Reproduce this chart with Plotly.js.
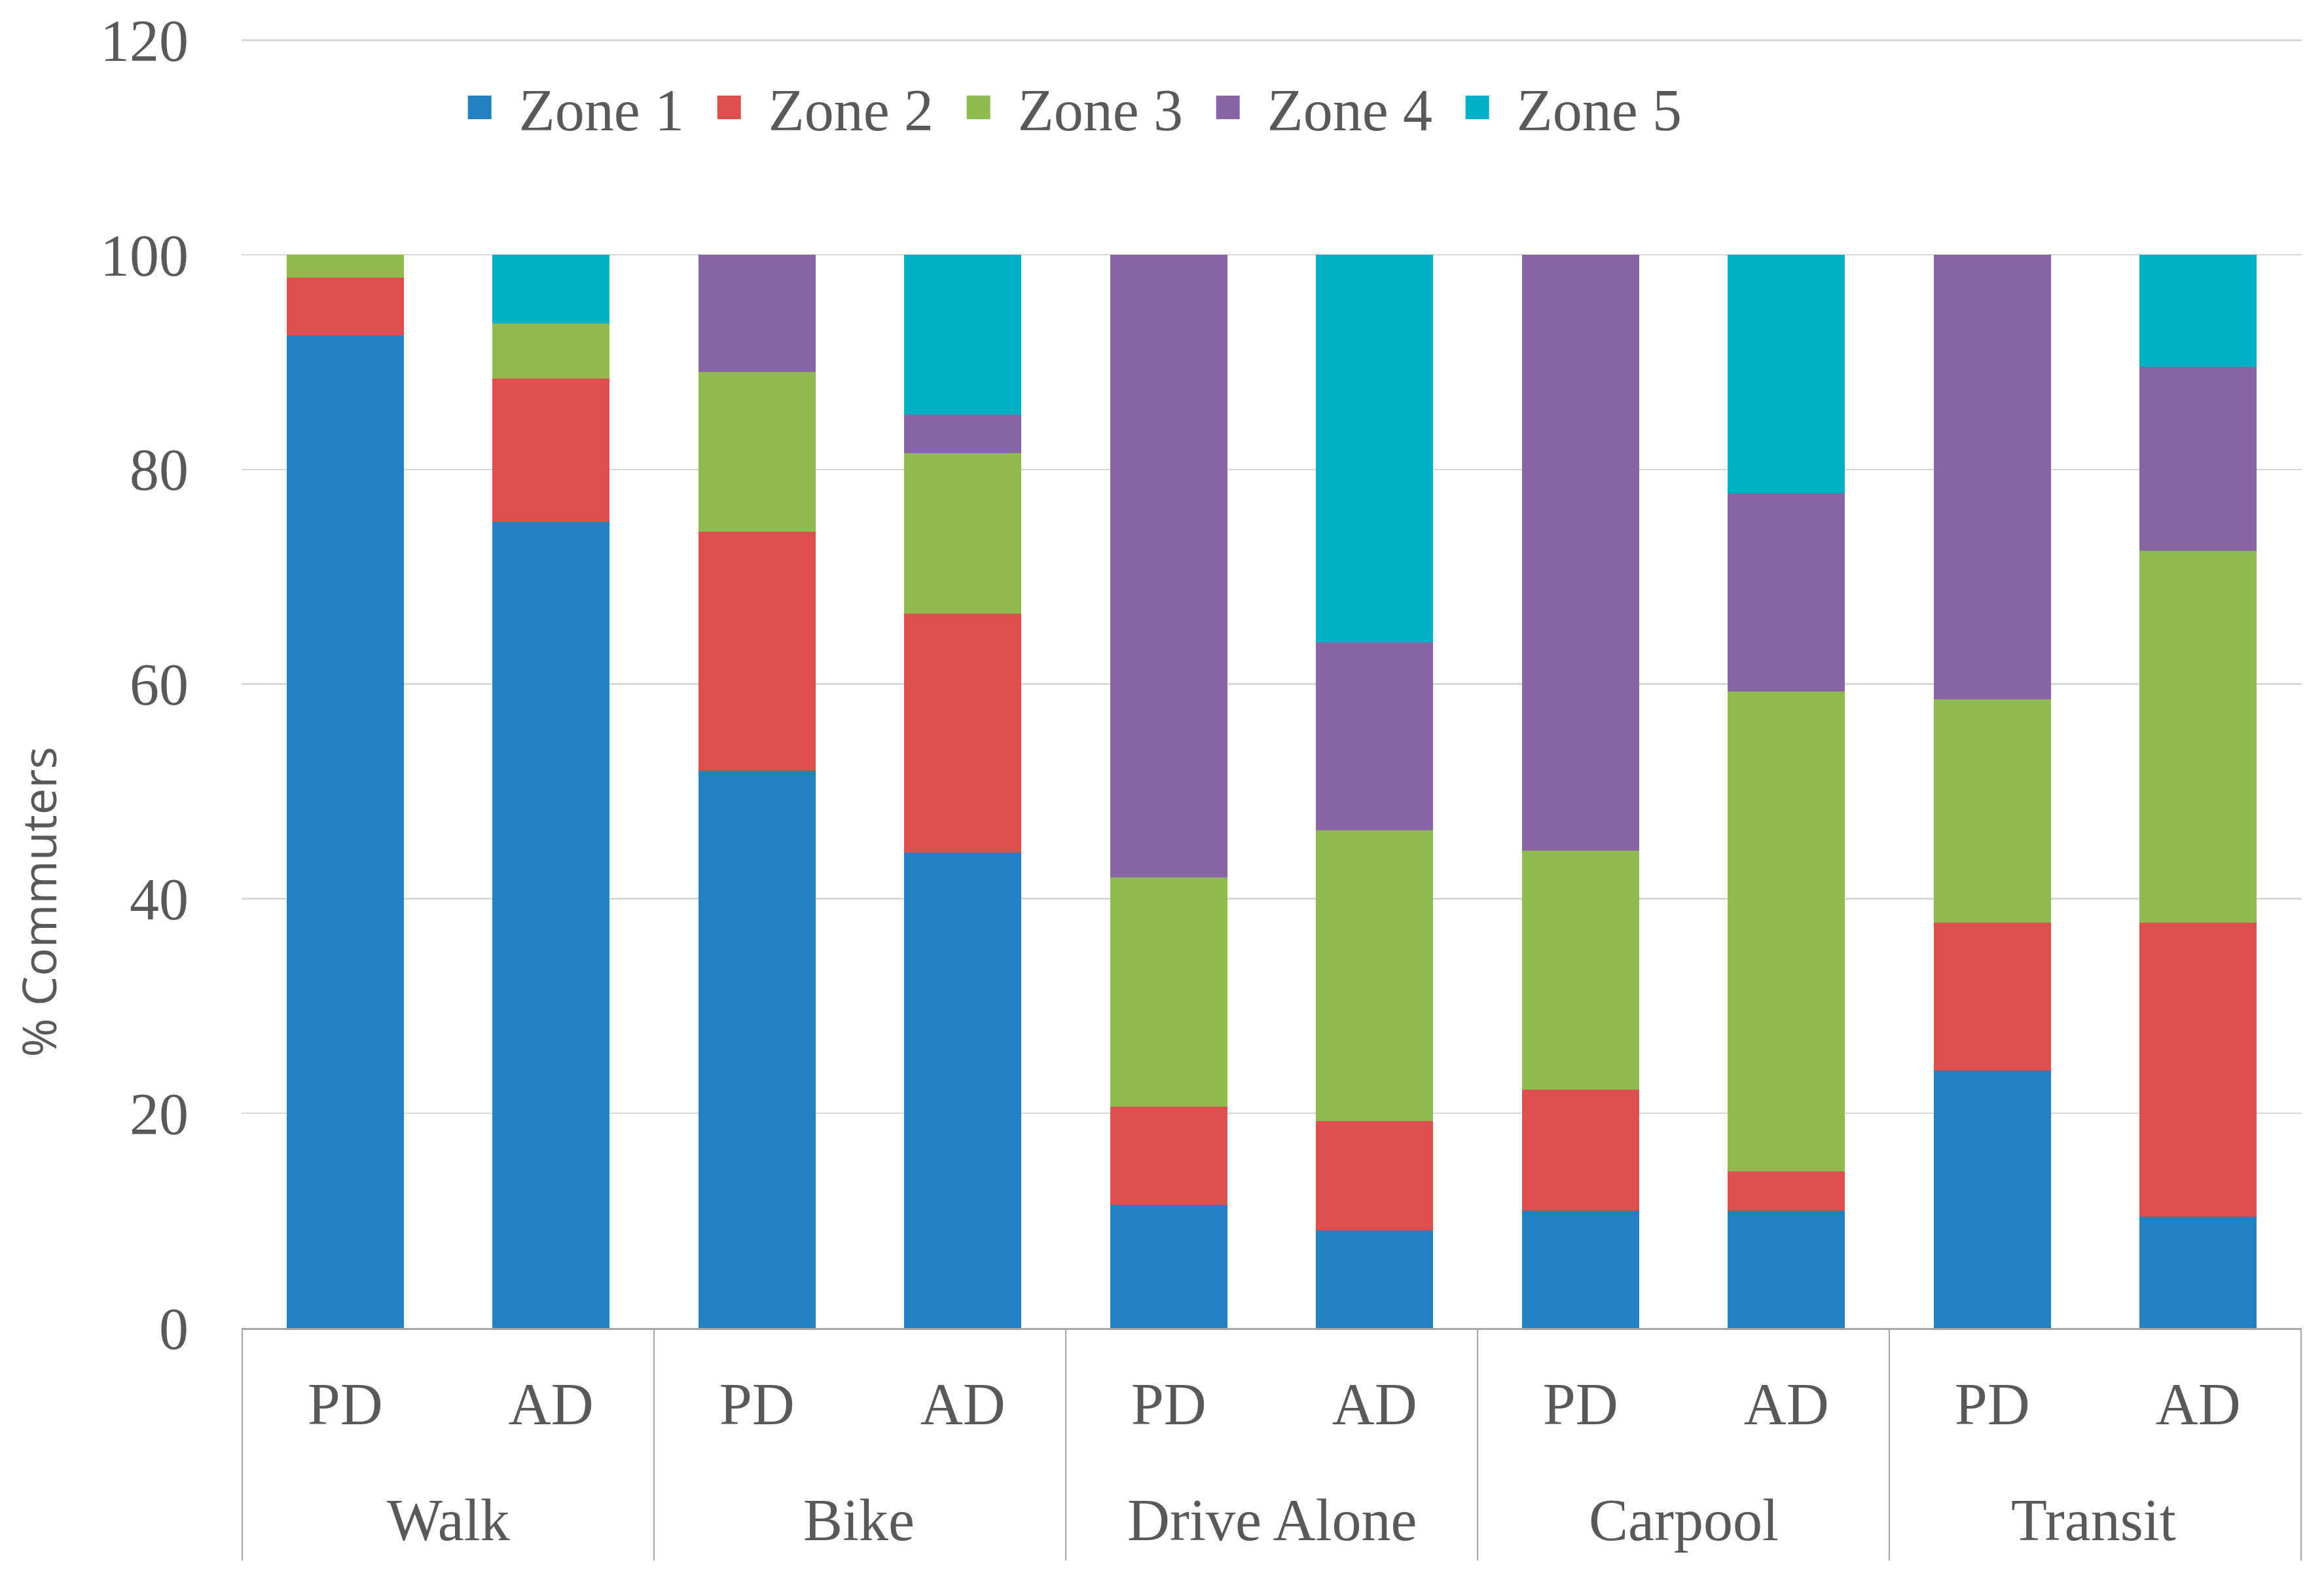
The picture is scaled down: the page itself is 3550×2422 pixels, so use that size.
<!DOCTYPE html>
<html>
<head>
<meta charset="utf-8">
<script src="https://cdn.plot.ly/plotly-3.0.1.min.js"></script>
<style>
html, body { margin: 0; padding: 0; background: #ffffff; overflow: hidden; }
#wrap { width: 3550px; height: 2422px; overflow: hidden; }
#chart { width: 1183.33px; height: 807.33px; transform: scale(3); transform-origin: 0 0; }
</style>
</head>
<body>
<div id="wrap"><div id="chart"></div></div>
<script>
const modes = ['Walk','Walk','Bike','Bike','Drive Alone','Drive Alone','Carpool','Carpool','Transit','Transit'];
const periods = ['PD','AD','PD','AD','PD','AD','PD','AD','PD','AD'];
const zoneNames = ['Zone 1','Zone 2','Zone 3','Zone 4','Zone 5'];
const zone1 = [92.5, 75.1, 51.9, 44.3, 11.5, 9.1, 10.9, 10.9, 24.0, 10.4];
const zone2 = [5.4, 13.4, 22.3, 22.3, 9.1, 10.2, 11.3, 3.7, 13.8, 27.4];
const zone3 = [2.1, 5.1, 14.9, 14.9, 21.4, 27.1, 22.3, 44.7, 20.8, 34.6];
const zone4 = [0, 0, 10.9, 3.6, 58.0, 17.5, 55.5, 18.5, 41.4, 17.2];
const zone5 = [0, 6.4, 0, 14.9, 0, 36.1, 0, 22.2, 0, 10.4];
const zoneColors = ['#2381c2', '#dc4f4c', '#8dbb4f', '#8a64a5', '#00afc8'];

// unique category keys for the x axis (mode + period)
const cats = modes.map((m, i) => m + ' ' + periods[i]);

const series = [zone1, zone2, zone3, zone4, zone5];
const traces = series.map((vals, i) => ({
  type: 'bar',
  name: zoneNames[i],
  x: cats,
  y: vals,
  marker: { color: zoneColors[i], line: { width: 0 } },
  hoverinfo: 'skip'
}));

const serif = 'Liberation Serif, DejaVu Serif, serif';
const textFont = { family: serif, size: 30, color: '#595959' };
const divColor = '#a6a6a6';

// group spans on the category axis
const groups = [];
modes.forEach((m, i) => {
  const g = groups[groups.length - 1];
  if (g && g.name === m) { g.end = i; } else { groups.push({ name: m, start: i, end: i }); }
});

const annotations = groups.map(g => ({
  xref: 'x', yref: 'paper',
  x: (g.start + g.end) / 2, y: -0.1482,
  text: g.name, showarrow: false,
  xanchor: 'center', yanchor: 'middle',
  font: textFont
}));
annotations.push({
  xref: 'paper', yref: 'paper',
  x: -0.0992, y: 0.328,
  text: '% Commuters', showarrow: false, textangle: -90,
  xanchor: 'center', yanchor: 'middle',
  font: { family: 'Open Sans, Noto Sans, sans-serif', size: 24, color: '#595959' }
});

const bounds = [groups[0].start - 0.5].concat(groups.map(g => g.end + 0.5));
const shapes = bounds.map(b => ({
  type: 'line', xref: 'x', yref: 'paper',
  x0: b, x1: b, y0: 0, y1: -0.1791,
  line: { color: divColor, width: 0.7 }
}));

const layout = {
  width: 1183.33,
  height: 807.33,
  margin: { l: 123, r: 11.3, t: 14.86, b: 131, pad: 0 },
  paper_bgcolor: '#ffffff',
  plot_bgcolor: '#ffffff',
  barmode: 'stack',
  bargap: 0.43,
  showlegend: true,
  legend: {
    orientation: 'h',
    x: 0.0965, xanchor: 'left',
    y: 0.940, yanchor: 'middle',
    entrywidth: 82,
    font: textFont,
    bgcolor: 'rgba(0,0,0,0)',
    traceorder: 'normal'
  },
  xaxis: {
    type: 'category',
    tickvals: cats,
    ticktext: periods,
    tickfont: textFont,
    showline: true,
    linecolor: divColor,
    linewidth: 1,
    showgrid: false,
    ticks: '',
    ticklabelstandoff: 12,
    zeroline: false
  },
  yaxis: {
    range: [0, 121],
    tickvals: [0, 20, 40, 60, 80, 100, 120],
    tickfont: textFont,
    showgrid: true,
    gridcolor: '#d9d9d9',
    gridwidth: 0.8,
    zeroline: false,
    showline: false,
    ticks: '',
    ticklabelstandoff: 26
  },
  annotations: annotations,
  shapes: shapes
};

Plotly.newPlot('chart', traces, layout, { staticPlot: true, displayModeBar: false });
</script>
</body>
</html>
